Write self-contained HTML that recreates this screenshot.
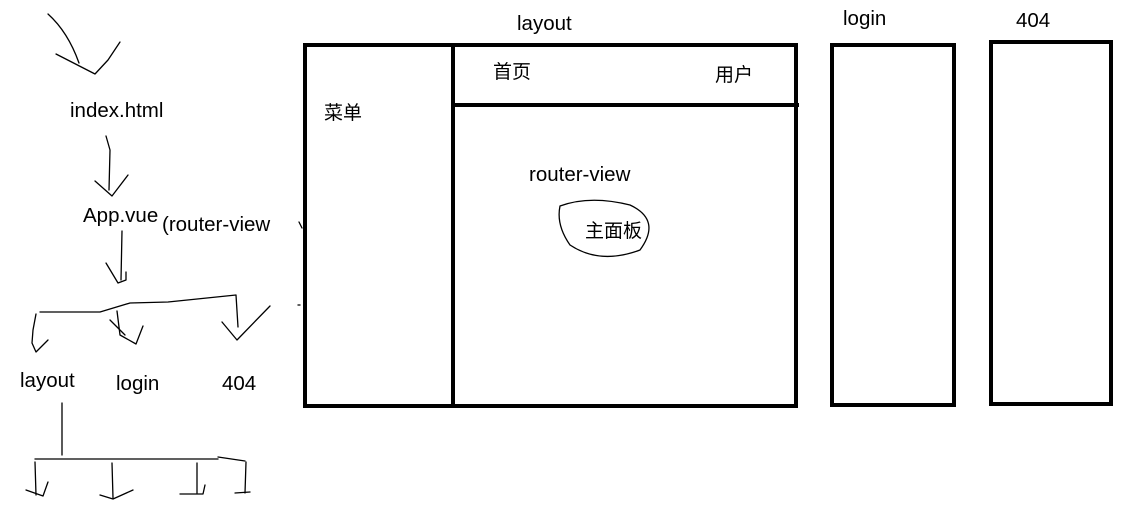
<!DOCTYPE html>
<html><head><meta charset="utf-8"><style>
html,body{margin:0;padding:0;background:#fff;}
svg{display:block}
text{font-family:"Liberation Sans","Noto Sans CJK SC",sans-serif;fill:#000;}
</style></head><body>
<svg width="1140" height="505" viewBox="0 0 1140 505" xmlns="http://www.w3.org/2000/svg">
<g fill="none" stroke="#000" stroke-width="1.3" stroke-linejoin="round" stroke-linecap="round">
<path d="M48,14 Q68,32 79,63"/>
<path d="M56,54 L95,74 L108,60 L120,42"/>
<path d="M106,136 L110,150 L109,190"/>
<path d="M95,181 L112,196 L128,175"/>
<path d="M122,231 L121,280"/>
<path d="M106,263 L118,283 L126,280 L126,272"/>
<path d="M40,312 L100,312 L130,303 L168,302 L236,295 L238,327"/>
<path d="M222,322 L237,340 L270,306"/>
<path d="M36,314 L33,330 L32,343 L36,352 L48,340"/>
<path d="M117,311 L120,335 L136,344 L143,326"/>
<path d="M110,320 L125,335"/>
<path d="M62,403 L62,455"/>
<path d="M35,459 L218,459"/>
<path d="M218,457 L245,461"/>
<path d="M35,462 L36,495"/>
<path d="M26,490 L43,496 L48,482"/>
<path d="M112,463 L113,498"/>
<path d="M100,495 L113,499 L133,490"/>
<path d="M197,463 L197,493"/>
<path d="M180,494 L203,494 L205,485"/>
<path d="M246,462 L245,493"/>
<path d="M235,493 L250,492"/>
<path d="M299,222 L302,228" />
<path d="M298,305 L300,305" />
<path d="M560,206 Q590,195 630,205 Q662,220 640,250 Q600,265 570,245 Q556,225 560,206 Z"/>
</g>
<g fill="none" stroke="#000" stroke-width="4">
<rect x="305" y="45" width="491" height="361"/>
<line x1="453" y1="47" x2="453" y2="406"/>
<line x1="453" y1="105" x2="799" y2="105"/>
<rect x="832" y="45" width="122" height="360"/>
<rect x="991" y="42" width="120" height="362"/>
</g>
<g font-size="20.5">
<text x="70" y="117">index.html</text>
<text x="83" y="222">App.vue</text>
<text x="162" y="231">(router-view</text>
<text x="20" y="387">layout</text>
<text x="116" y="390">login</text>
<text x="222" y="390">404</text>
<text x="517" y="30">layout</text>
<text x="529" y="181">router-view</text>
<text x="843" y="25">login</text>
<text x="1016" y="27">404</text>
</g>
<g font-size="19">
<text x="324" y="119">菜单</text>
<text x="493" y="78">首页</text>
<text x="715" y="81">用户</text>
<text x="585" y="237">主面板</text>
</g>
</svg>
</body></html>
